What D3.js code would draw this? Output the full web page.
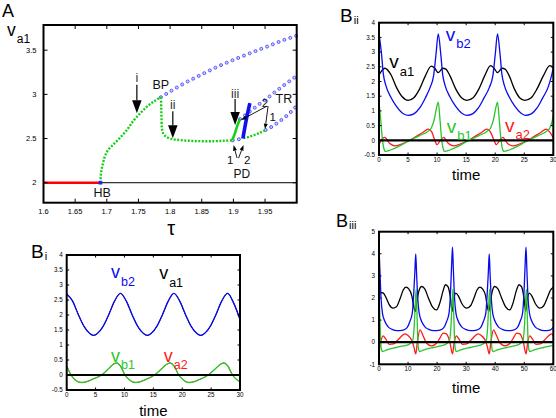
<!DOCTYPE html>
<html><head><meta charset="utf-8">
<script src="https://cdn.jsdelivr.net/npm/d3@7"></script>
<style>
body{margin:0;background:#fff}
svg{display:block}
text{font-family:"Liberation Sans",Arial,Helvetica,sans-serif}
</style>
</head><body>
<svg id="c" width="556" height="418"></svg>
<script>
// ---------------- Panel A: bifurcation diagram (tau, v_a1) ----------------
const aXTicks = [1.6,1.65,1.7,1.75,1.8,1.85,1.9,1.95];
const aYTicks = [2,2.5,3,3.5];
const eqStable   = [[1.6,2.0],[1.688,2.0]];
const eqUnstable = [[1.69,2.0],[2.0,2.0]];
const hbPoint    = [[1.69,2.0]];
const greenHB_BP = [[1.69,2.0],[1.6905,2.08],[1.692,2.16],[1.694,2.22],[1.697,2.30],[1.702,2.37],[1.71,2.43],[1.721,2.51],[1.732,2.60],[1.742,2.70],[1.7527,2.785],[1.7633,2.86],[1.7737,2.916],[1.7855,2.968]];
const greenBP_PD = [[1.7855,2.968],[1.786,2.85],[1.7865,2.72],[1.787,2.62],[1.789,2.56],[1.793,2.525],[1.80,2.50],[1.81,2.487],[1.83,2.475],[1.85,2.47],[1.87,2.47],[1.885,2.475],[1.898,2.48]];
const greenSolid = [[1.898,2.48],[1.902,2.55],[1.906,2.64],[1.9105,2.72]];
const greenTR    = [[1.916,2.505],[1.925,2.52],[1.935,2.545],[1.943,2.57],[1.951,2.597]];
const blueThick  = [[1.915,2.50],[1.920,2.70],[1.926,2.90]];
const blueShort  = [[1.899,2.48],[1.915,2.50]];
const blueUpper  = [[1.7855,2.968],[1.795,3.01],[1.821,3.12],[1.847,3.215],[1.874,3.31],[1.90,3.39],[1.926,3.465],[1.953,3.54],[1.974,3.60],[2.0,3.665]];
const blueMiddle = [[1.9105,2.72],[1.925,2.80],[1.94,2.885],[1.955,2.965],[1.97,3.05],[1.985,3.13],[2.0,3.21]];
const blueLower  = [[1.951,2.597],[1.962,2.64],[1.972,2.69],[1.982,2.745],[1.992,2.81],[2.0,2.87]];
// annotations: [text, tau, v, size]
const aLabels = [["BP",1.7854,3.057,12.5],["HB",1.6927,1.835,12.5],["TR",1.9798,2.905,12.5],["PD",1.9133,2.055,12],
                 ["1",1.8948,2.215,11.5],["2",1.922,2.215,11.5],["2",1.950,2.86,11.5],["1",1.962,2.70,11.5],
                 ["i",1.7475,3.142,12.5],["ii",1.8043,2.83,12.5],["iii",1.9027,2.955,12.5]];
// big arrows: [tau, vFrom, vTo]
const bigArrows = [[1.7475,3.11,2.785],[1.8043,2.81,2.502],[1.9027,2.947,2.653]];
// small arrows: [tau1, v1, tau2, v2]
const smallArrows = [[1.953,2.867,1.912,2.709],[1.9548,2.867,1.950,2.607],[1.9058,2.279,1.9003,2.426],[1.9082,2.279,1.916,2.426]];

// ---------------- Panel B_i ----------------
const biXTicks = [0,5,10,15,20,25,30];
const biYTicks = [-0.5,0,0.5,1,1.5,2,2.5,3,3.5,4];
const bi_vb2 = [[0,2.70],[1,2.47],[2,2.02],[3,1.62],[4,1.38],[4.65,1.32],[5.3,1.38],[6.3,1.62],[7.3,2.02],[8.3,2.47],[9.3,2.72],[10.3,2.47],[11.3,2.02],[12.3,1.62],[13.3,1.38],[13.95,1.32],[14.6,1.38],[15.6,1.62],[16.6,2.02],[17.6,2.47],[18.55,2.72],[19.55,2.47],[20.55,2.02],[21.55,1.62],[22.55,1.38],[23.2,1.32],[23.85,1.38],[24.85,1.62],[25.85,2.02],[26.85,2.47],[27.85,2.72],[28.85,2.42],[30,1.85]];
const bi_va1 = bi_vb2; // synchronous, hidden under v_b2
const bi_vb1 = [[0,0.30],[0.75,0.0],[1.5,-0.17],[2.5,-0.25],[3.5,-0.22],[4.5,-0.14],[6.05,0.0],[7.3,0.22],[8.0,0.35],[8.65,0.40],[9.3,0.30],[10.1,0.0],[10.9,-0.17],[11.8,-0.25],[12.8,-0.22],[13.8,-0.14],[15.2,0.0],[16.5,0.22],[17.25,0.35],[17.9,0.40],[18.6,0.30],[19.4,0.0],[20.2,-0.17],[21.1,-0.25],[22.1,-0.22],[23.1,-0.14],[24.5,0.0],[25.8,0.22],[26.55,0.35],[27.2,0.40],[27.9,0.30],[28.7,0.0],[29.4,-0.15],[30,-0.22]];
const bi_va2 = bi_vb1; // synchronous, hidden under v_b1

// ---------------- Panel B_ii ----------------
const biiXTicks = [0,5,10,15,20,25,30];
const biiYTicks = [-0.5,0,0.5,1,1.5,2,2.5,3,3.5,4];
const bii_vb2 = [[0,3.62],[0.4,3.0],[0.75,2.25],[1.2,1.85],[2,1.48],[3,1.15],[4,0.93],[5,0.85],[6,0.9],[7,1.1],[8,1.45],[8.8,1.8],[9.4,2.2],[9.8,2.9],[10.2,3.62],[10.6,3.0],[10.95,2.25],[11.4,1.85],[12.2,1.48],[13.2,1.15],[14.2,0.93],[15.1,0.85],[16.1,0.9],[17.1,1.1],[18.1,1.45],[19,1.8],[19.6,2.2],[20,2.9],[20.4,3.62],[20.8,3.0],[21.15,2.25],[21.6,1.85],[22.4,1.48],[23.4,1.15],[24.4,0.93],[25.2,0.85],[26.2,0.9],[27.2,1.1],[28.2,1.45],[29.1,1.8],[29.7,2.2],[30,2.45]];
const bii_va1 = [[0,2.22],[1.0,2.45],[2.0,2.25],[3.0,1.8],[4.0,1.48],[5.0,1.36],[6.0,1.45],[7.0,1.75],[8.0,2.2],[9.0,2.52],[9.6,2.45],[10.2,2.3],[11.0,2.45],[11.5,2.42],[12.2,2.2],[13.2,1.75],[14.2,1.45],[15.1,1.36],[16.2,1.45],[17.2,1.75],[18.2,2.2],[19.2,2.54],[19.8,2.45],[20.4,2.3],[21.2,2.45],[21.7,2.42],[22.4,2.2],[23.3,1.75],[24.2,1.45],[25.1,1.36],[26.2,1.45],[27.2,1.75],[28.3,2.2],[29.4,2.54],[30,2.48]];
const bii_vb1 = [[0,1.3],[0.3,0.7],[0.6,0.0],[0.9,-0.32],[1.1,-0.38],[2,-0.33],[3.5,-0.2],[5.3,0.0],[7,0.16],[8.4,0.3],[9.0,0.42],[9.5,0.7],[9.9,1.1],[10.2,1.3],[10.5,0.7],[10.8,0.0],[11.1,-0.32],[11.3,-0.38],[12.2,-0.33],[13.7,-0.2],[15.5,0.0],[17.2,0.16],[18.6,0.3],[19.2,0.42],[19.7,0.7],[20.1,1.1],[20.4,1.3],[20.7,0.7],[21.0,0.0],[21.3,-0.32],[21.5,-0.38],[22.4,-0.33],[23.9,-0.2],[25.7,0.0],[27.4,0.16],[28.8,0.3],[29.4,0.42],[29.8,0.65],[30,0.85]];
const bii_va2 = [[0,-0.15],[0.3,-0.02],[1.0,0.1],[1.8,-0.1],[2.8,-0.19],[4.2,-0.1],[5.9,0.07],[7.4,0.25],[8.5,0.38],[9.1,0.28],[9.6,0.0],[10.0,-0.15],[10.5,-0.02],[11.1,0.1],[11.9,-0.1],[12.9,-0.19],[14.3,-0.1],[16.0,0.07],[17.5,0.25],[18.6,0.38],[19.2,0.28],[19.8,0.0],[20.2,-0.15],[20.7,-0.02],[21.3,0.1],[22.1,-0.1],[23.1,-0.19],[24.5,-0.1],[26.2,0.07],[27.7,0.25],[28.8,0.38],[29.4,0.28],[30,0.08]];

// ---------------- Panel B_iii ----------------
const biiiXTicks = [0,10,20,30,40,50,60];
const biiiYTicks = [-1,0,1,2,3,4,5];
const biii_vb2 = [[0,4.3],[0.3,3.3],[0.7,2.0],[1.2,1.3],[2.0,0.95],[3.0,0.72],[4.5,0.58],[6.3,0.52],[8.3,0.55],[9.6,0.65],[10.65,0.95],[11.45,1.3],[11.95,2.2],[12.35,3.2],[12.65,4.0],[12.95,3.05],[13.35,2.0],[13.85,1.3],[14.65,0.95],[15.65,0.72],[17.15,0.58],[18.95,0.52],[20.95,0.55],[22.25,0.65],[23.3,0.95],[24.1,1.3],[24.6,2.2],[25.0,3.5],[25.3,4.3],[25.6,3.3],[26.0,2.0],[26.5,1.3],[27.3,0.95],[28.3,0.72],[29.8,0.58],[31.6,0.52],[33.6,0.55],[34.9,0.65],[35.95,0.95],[36.75,1.3],[37.25,2.2],[37.65,3.2],[37.95,4.0],[38.25,3.05],[38.65,2.0],[39.15,1.3],[39.95,0.95],[40.95,0.72],[42.45,0.58],[44.25,0.52],[46.25,0.55],[47.55,0.65],[48.6,0.95],[49.4,1.3],[49.9,2.2],[50.3,3.5],[50.6,4.3],[50.9,3.3],[51.3,2.0],[51.8,1.3],[52.6,0.95],[53.6,0.72],[55.1,0.58],[56.9,0.52],[58.9,0.55],[60,0.68]];
const biii_va1 = [[0,2.2],[0.6,2.25],[1.5,2.22],[2.5,2.0],[3.5,1.7],[4.9,1.54],[6.0,1.6],[7.2,1.95],[8.3,2.35],[9.3,2.49],[10.3,2.4],[11.3,2.1],[12.0,1.6],[12.5,1.39],[13.0,1.8],[13.7,2.3],[14.7,2.52],[15.8,2.4],[17.0,2.0],[18.4,1.6],[19.8,1.46],[21.0,1.8],[22.0,2.3],[22.9,2.6],[23.8,2.5],[24.6,2.0],[25.2,1.4],[25.7,1.9],[26.4,2.22],[27.3,2.1],[28.5,1.75],[30.2,1.54],[31.5,1.65],[32.7,2.0],[33.7,2.35],[34.7,2.49],[35.7,2.4],[36.7,2.1],[37.3,1.6],[37.8,1.39],[38.3,1.8],[39.0,2.3],[39.8,2.52],[41.0,2.4],[42.2,2.0],[43.6,1.6],[45.0,1.46],[46.2,1.8],[47.2,2.3],[48.2,2.6],[49.1,2.5],[49.9,2.0],[50.5,1.4],[51.0,1.9],[51.7,2.22],[52.6,2.1],[53.8,1.75],[55.4,1.54],[56.7,1.65],[57.9,2.0],[59.0,2.35],[60,2.49]];
const biii_vb1 = [[0,2.4],[0.3,1.2],[0.6,0.0],[0.95,-0.38],[1.35,-0.42],[2.4,-0.36],[3.9,-0.3],[5.9,-0.24],[7.9,-0.18],[9.9,-0.12],[10.9,-0.05],[11.65,0.1],[12.15,0.8],[12.5,1.8],[12.8,2.4],[13.1,1.2],[13.4,0.0],[13.75,-0.38],[14.15,-0.42],[15.2,-0.36],[16.7,-0.3],[18.7,-0.24],[20.7,-0.18],[22.5,-0.12],[23.5,-0.05],[24.3,0.1],[24.8,0.8],[25.15,1.8],[25.45,2.4],[25.75,1.2],[26.05,0.0],[26.4,-0.38],[26.8,-0.42],[27.85,-0.36],[29.35,-0.3],[31.35,-0.24],[33.35,-0.18],[35.15,-0.12],[36.15,-0.05],[36.95,0.1],[37.45,0.8],[37.8,1.8],[38.1,2.4],[38.4,1.2],[38.7,0.0],[39.05,-0.38],[39.45,-0.42],[40.5,-0.36],[42.0,-0.3],[44.0,-0.24],[46.0,-0.18],[47.8,-0.12],[48.8,-0.05],[49.6,0.1],[50.1,0.8],[50.45,1.8],[50.75,2.4],[51.05,1.2],[51.35,0.0],[51.7,-0.38],[52.1,-0.42],[53.15,-0.36],[54.65,-0.3],[56.65,-0.24],[58.65,-0.18],[60,-0.14]];
const biii_va2 = [[0,-0.5],[0.6,0.0],[1.4,0.29],[2.3,0.15],[3.5,-0.1],[5.0,-0.08],[6.5,0.1],[8.0,0.3],[9.0,0.38],[10.0,0.3],[11.2,0.1],[12.0,-0.2],[12.65,-0.53],[13.2,0.0],[14.1,0.56],[15.0,0.35],[16.4,-0.05],[18.1,-0.17],[19.8,-0.05],[21.0,0.2],[22.1,0.41],[23.2,0.38],[24.4,0.0],[25.3,-0.53],[25.9,0.0],[26.6,0.29],[27.5,0.15],[28.7,-0.1],[30.2,-0.08],[31.7,0.1],[33.2,0.3],[34.2,0.38],[35.2,0.3],[36.5,0.1],[37.3,-0.2],[37.95,-0.53],[38.5,0.0],[39.4,0.56],[40.3,0.35],[41.7,-0.05],[43.4,-0.17],[45.1,-0.05],[46.3,0.2],[47.4,0.41],[48.5,0.38],[49.7,0.0],[50.6,-0.53],[51.2,0.0],[51.9,0.29],[52.8,0.15],[54.0,-0.1],[55.5,-0.08],[57.0,0.1],[58.5,0.3],[59.4,0.38],[60,0.3]];

// ---------------- drawing ----------------
const svg = d3.select("#c");
const COL = {black:"#000", blue:"#0a0af0", green:"#2cc42c", red:"#ff1a1a", dotBlue:"#4a4aff", dotGreen:"#15d015"};

function panel(o){
  const x = d3.scaleLinear().domain(o.xd).range([o.x0,o.x1]);
  const y = d3.scaleLinear().domain(o.yd).range([o.y1,o.y0]);
  const g = svg.append("g");
  const plot = g.append("g");
  const fr = g.append("g");
  o.xticks.forEach(t=>{
    fr.append("line").attr("x1",x(t)).attr("x2",x(t)).attr("y1",o.y1).attr("y2",o.y1-o.tl).attr("stroke","#000").attr("stroke-width",1);
    fr.append("line").attr("x1",x(t)).attr("x2",x(t)).attr("y1",o.y0).attr("y2",o.y0+o.tl).attr("stroke","#000").attr("stroke-width",1);
    fr.append("text").attr("x",x(t)).attr("y",o.y1+o.xlOff).attr("text-anchor","middle").attr("font-size",o.fs).text(String(t));
  });
  o.yticks.forEach(t=>{
    fr.append("line").attr("x1",o.x0).attr("x2",o.x0+o.tl).attr("y1",y(t)).attr("y2",y(t)).attr("stroke","#000").attr("stroke-width",1);
    fr.append("line").attr("x1",o.x1).attr("x2",o.x1-o.tl).attr("y1",y(t)).attr("y2",y(t)).attr("stroke","#000").attr("stroke-width",1);
    fr.append("text").attr("x",o.x0-o.ylOff).attr("y",y(t)).attr("dy","0.35em").attr("text-anchor","end").attr("font-size",o.fs).text(String(t));
  });
  fr.append("rect").attr("x",o.x0).attr("y",o.y0).attr("width",o.x1-o.x0).attr("height",o.y1-o.y0)
    .attr("fill","none").attr("stroke","#000").attr("stroke-width",2);
  return {x,y,g,plot,fr};
}

function vlabel(sel,x,y,sub,color,fs1,fs2,dy){
  const t = sel.append("text").attr("x",x).attr("y",y).attr("fill",color).attr("font-size",fs1);
  t.append("tspan").text("v");
  t.append("tspan").attr("font-size",fs2).attr("dy",dy).attr("dx",1).text(sub);
}
function plabel(x,y,letter,sub,fs1,fs2){
  const t = svg.append("text").attr("x",x).attr("y",y).attr("font-size",fs1);
  t.append("tspan").text(letter);
  if(sub) t.append("tspan").attr("font-size",fs2).attr("dy",2).attr("dx",1).text(sub);
}

// ===== Panel A =====
const A = panel({xd:[1.6,2.0],yd:[1.774,3.785],x0:43.5,x1:296.7,y0:25,y1:202.7,
  xticks:aXTicks,yticks:aYTicks,tl:4,fs:7.5,xlOff:11,ylOff:7});
const la = d3.line().x(d=>A.x(d[0])).y(d=>A.y(d[1])).curve(d3.curveMonotoneX);
const laC = d3.line().x(d=>A.x(d[0])).y(d=>A.y(d[1])).curve(d3.curveCatmullRom);
A.plot.append("path").attr("d",la(eqUnstable)).attr("stroke","#000").attr("stroke-width",1).attr("fill","none");
A.plot.append("path").attr("d",la(eqStable)).attr("stroke","#ff0000").attr("stroke-width",2.6).attr("fill","none");
function dotted(data, curve){
  const p = A.plot.append("path").attr("d",d3.line().x(d=>A.x(d[0])).y(d=>A.y(d[1])).curve(curve)(data)).attr("fill","none").attr("stroke","none");
  const node = p.node(), L = node.getTotalLength();
  const pts = d3.range(0, L+0.01, 6.2).map(s=>node.getPointAtLength(s));
  A.plot.selectAll(null).data(pts).enter().append("circle").attr("cx",d=>d.x).attr("cy",d=>d.y).attr("r",1.5)
    .attr("fill","#d0d0ff").attr("stroke",COL.dotBlue).attr("stroke-width",0.9);
}
dotted(blueUpper, d3.curveCatmullRom);
dotted(blueMiddle, d3.curveCatmullRom);
dotted(blueLower, d3.curveCatmullRom);
dotted(blueShort, d3.curveLinear);
[greenHB_BP, greenBP_PD, greenTR].forEach(dd=>{
  A.plot.append("path").attr("d",laC(dd)).attr("fill","none").attr("stroke",COL.dotGreen)
    .attr("stroke-width",2.4).attr("stroke-dasharray","2 1.5");
});
A.plot.append("path").attr("d",laC(greenSolid)).attr("fill","none").attr("stroke",COL.dotGreen).attr("stroke-width",2.6);
A.plot.append("path").attr("d",laC(blueThick)).attr("fill","none").attr("stroke","#1010f0").attr("stroke-width",3.6);
A.plot.selectAll(null).data(hbPoint).enter().append("rect").attr("x",d=>A.x(d[0])-1.8).attr("y",d=>A.y(d[1])-1.8)
  .attr("width",3.6).attr("height",3.6).attr("fill","#2222ff");

function arrow(g,x1,y1,x2,y2,hl,hw,sw){
  const ang = Math.atan2(y2-y1,x2-x1);
  const bx = x2 - hl*Math.cos(ang), by = y2 - hl*Math.sin(ang);
  g.append("line").attr("x1",x1).attr("y1",y1).attr("x2",bx).attr("y2",by).attr("stroke","#000").attr("stroke-width",sw);
  const px = -Math.sin(ang)*hw/2, py = Math.cos(ang)*hw/2;
  g.append("path").attr("d",`M${x2},${y2}L${bx+px},${by+py}L${bx-px},${by-py}Z`).attr("fill","#000");
}
const annG = A.g.append("g");
bigArrows.forEach(a=>arrow(annG,A.x(a[0]),A.y(a[1]),A.x(a[0]),A.y(a[2]),13,9.5,1.2));
smallArrows.forEach(a=>arrow(annG,A.x(a[0]),A.y(a[1]),A.x(a[2]),A.y(a[3]),5.5,4,0.9));
aLabels.forEach(l=>{
  const roman = /^i+$/.test(l[0]);
  annG.append("text").attr("x",A.x(l[1])).attr("y",A.y(l[2])).attr("text-anchor","middle")
    .attr("font-size",l[3]).attr("fill",roman?"#333":"#111").text(l[0]);
});
vlabel(svg,7,36,"a1","#000",17.5,12,6.5);
svg.append("text").attr("x",A.x(1.8)+1).attr("y",235).attr("text-anchor","middle").attr("font-size",20)
  .attr("font-family","'DejaVu Serif',serif").text("τ");
plabel(2,17,"A",null,18,11);

// ===== time series panels =====
function tsPanel(o, series, labels, title){
  const P = panel(o);
  const ln = d3.line().x(d=>P.x(d[0])).y(d=>P.y(d[1])).curve(d3.curveMonotoneX);
  series.forEach(s=>{
    P.plot.append("path").attr("d",ln(s.data)).attr("fill","none").attr("stroke",s.color).attr("stroke-width",s.w||1.3);
  });
  P.plot.append("line").attr("x1",P.x(o.xd[0])).attr("x2",P.x(o.xd[1])).attr("y1",P.y(0)).attr("y2",P.y(0))
    .attr("stroke","#000").attr("stroke-width",2.2);
  labels.forEach(l=>vlabel(P.g,P.x(l[1]),P.y(l[2]),l[0],l[3],o.vfs,o.sfs,7.5));
  P.g.append("text").attr("x",(o.x0+o.x1)/2).attr("y",title).attr("text-anchor","middle").attr("font-size",15).text("time");
  return P;
}

tsPanel({xd:[0,30],yd:[-0.5,4],x0:66.7,x1:240,y0:255,y1:390,xticks:biXTicks,yticks:biYTicks,tl:2.5,fs:6.3,xlOff:7,ylOff:4,vfs:18,sfs:12.5},
  [{data:bi_va1,color:COL.black,w:1},{data:bi_vb2,color:COL.blue},{data:bi_va2,color:COL.red,w:1},{data:bi_vb1,color:COL.green}],
  [["b2",7.67,3.23,COL.blue],["a1",16.0,3.2,"#000"],["b1",7.67,0.443,COL.green],["a2",16.8,0.443,COL.red]], 416);
plabel(31,258,"B","i",19,11);

tsPanel({xd:[0,30],yd:[-0.5,4],x0:379,x1:553.3,y0:22.7,y1:155,xticks:biiXTicks,yticks:biiYTicks,tl:2.5,fs:6.3,xlOff:7,ylOff:4,vfs:19,sfs:13},
  [{data:bii_va1,color:COL.black},{data:bii_vb2,color:COL.blue},{data:bii_va2,color:COL.red},{data:bii_vb1,color:COL.green}],
  [["a1",1.77,2.45,"#000"],["b2",11.5,3.39,COL.blue],["b1",11.65,0.26,COL.green],["a2",21.7,0.29,COL.red]], 180);
plabel(340,21.7,"B","ii",19,11);

tsPanel({xd:[0,60],yd:[-1,5],x0:379,x1:553.3,y0:231.7,y1:364.3,xticks:biiiXTicks,yticks:biiiYTicks,tl:2.5,fs:6.3,xlOff:7,ylOff:4,vfs:19,sfs:13},
  [{data:biii_va1,color:COL.black},{data:biii_vb2,color:COL.blue},{data:biii_va2,color:COL.red},{data:biii_vb1,color:COL.green}],
  [], 393);
plabel(336,227,"B","iii",18,11);
</script>
</body></html>
